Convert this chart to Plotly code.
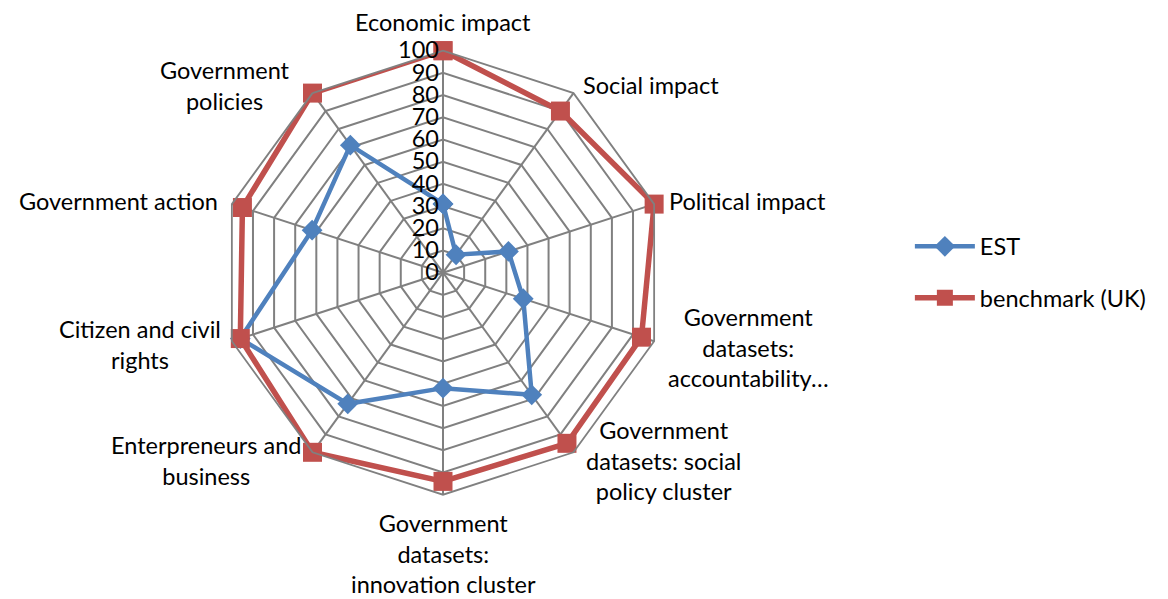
import plotly.graph_objects as go

categories = ["Economic impact", "Social impact", "Political impact",
              "Government datasets: accountability…",
              "Government datasets: social policy cluster",
              "Government datasets: innovation cluster",
              "Enterpreneurs and business", "Citizen and civil rights",
              "Government action", "Government policies"]
est_values = [31, 10, 31, 38, 68, 52, 73, 96, 62, 71]
uk_values = [100, 90, 100, 94, 95, 94, 100, 96, 95, 100]
radial_ticks = [0, 10, 20, 30, 40, 50, 60, 70, 80, 90, 100]

# label text and positions (pixels) for category labels
label_texts = ["Economic impact", "Social impact", "Political impact",
               "Government<br>datasets:<br>accountability…",
               "Government<br>datasets: social<br>policy cluster",
               "Government<br>datasets:<br>innovation cluster",
               "Enterpreneurs and<br>business", "Citizen and civil<br>rights",
               "Government action", "Government<br>policies"]
label_px = [(443, 22), (651, 85), (747, 201), (748, 347), (663, 460),
            (443, 553), (206, 460), (140, 344), (118, 201), (225, 86)]

W, H = 1168, 599
cx, cy, R = 443, 272.7, 222
FS = 23.5

def closed(v):
    return list(v) + [v[0]]

fig = go.Figure()
fig.add_trace(go.Scatterpolar(
    r=closed(est_values), theta=closed(categories), name="EST",
    mode="lines+markers", legendgroup="a",
    line=dict(color="#4F81BD", width=4.5),
    marker=dict(symbol="diamond", size=16, color="#4F81BD"),
))
fig.add_trace(go.Scatterpolar(
    r=closed(uk_values), theta=closed(categories), name="benchmark (UK)",
    mode="lines+markers", legendgroup="b",
    line=dict(color="#C0504D", width=5.5),
    marker=dict(symbol="square", size=19, color="#C0504D"),
))

grid = "#808080"
fig.update_layout(
    width=W, height=H,
    margin=dict(l=0, r=0, t=0, b=0),
    paper_bgcolor="white", plot_bgcolor="white",
    font=dict(family="Lato, Open Sans, sans-serif", size=FS, color="black"),
    polar=dict(
        domain=dict(x=[(cx - R) / W, (cx + R) / W], y=[1 - (cy + R) / H, 1 - (cy - R) / H]),
        gridshape="linear",
        bgcolor="white",
        angularaxis=dict(rotation=90, direction="clockwise", showticklabels=False,
                         ticks="", gridcolor=grid, gridwidth=1.8,
                         linecolor=grid, linewidth=1.8, showline=True),
        radialaxis=dict(range=[0, 100], tickvals=radial_ticks, angle=90,
                        tickangle=90, showline=False, ticks="", gridcolor=grid,
                        gridwidth=1.8, side="counterclockwise",
                        tickfont=dict(size=FS)),
    ),
    legend=dict(x=0.779, y=0.545, xanchor="left", yanchor="middle",
                tracegroupgap=18, traceorder="grouped",
                font=dict(size=FS), itemwidth=60),
)

for t, (px, py) in zip(label_texts, label_px):
    fig.add_annotation(text=t, x=px / W, y=1 - py / H, xref="paper", yref="paper",
                       showarrow=False, xanchor="center", yanchor="middle",
                       font=dict(size=FS))

fig.write_html("out.html")
